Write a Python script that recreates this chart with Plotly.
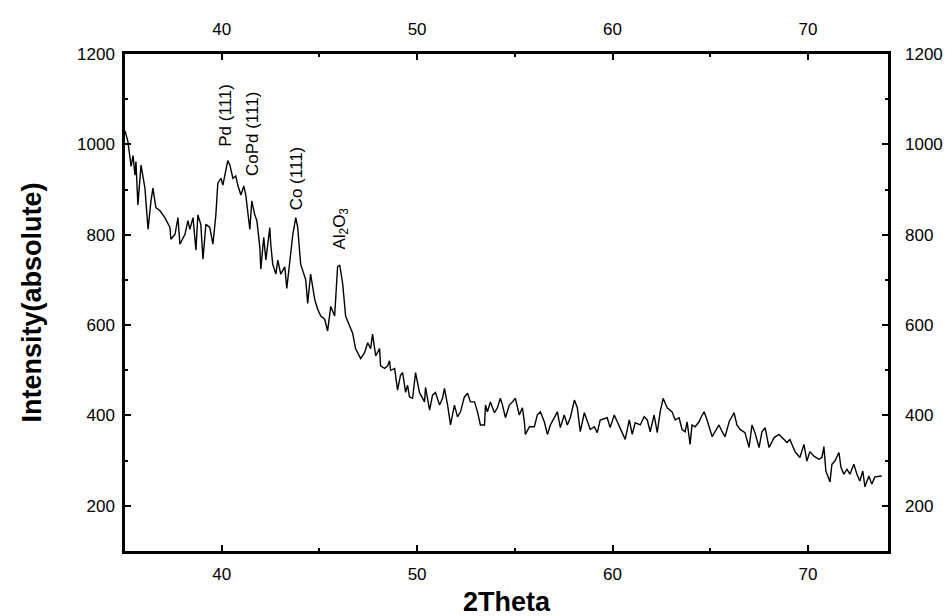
import plotly.graph_objects as go

two_theta = [35.05,35.20,35.36,35.46,35.56,35.61,35.71,35.82,35.87,36.07,36.23,36.38,36.48,36.63,36.84,37.09,37.35,37.40,37.61,37.76,37.86,38.12,38.27,38.37,38.53,38.68,38.78,38.93,39.04,39.19,39.39,39.55,39.70,39.80,39.96,40.06,40.21,40.31,40.42,40.57,40.72,40.82,40.98,41.13,41.23,41.44,41.54,41.69,41.80,41.95,42.00,42.15,42.26,42.46,42.51,42.61,42.77,42.87,43.02,43.23,43.33,43.48,43.64,43.79,43.89,44.04,44.20,44.30,44.40,44.55,44.76,44.91,45.07,45.27,45.42,45.58,45.78,45.93,46.04,46.19,46.34,46.55,46.70,46.85,47.11,47.31,47.47,47.62,47.72,47.88,48.08,48.13,48.34,48.49,48.59,48.64,48.85,49.00,49.15,49.26,49.41,49.51,49.61,49.77,49.92,50.12,50.38,50.43,50.64,50.79,50.94,51.15,51.30,51.40,51.56,51.71,51.91,52.07,52.22,52.42,52.58,52.73,52.94,53.09,53.24,53.45,53.50,53.60,53.75,53.96,54.11,54.26,54.37,54.52,54.72,54.88,55.03,55.23,55.39,55.49,55.54,55.75,56.00,56.15,56.31,56.51,56.67,56.82,57.02,57.18,57.33,57.53,57.69,57.84,58.05,58.20,58.35,58.56,58.86,59.07,59.22,59.37,59.73,59.88,60.09,60.24,60.40,60.65,60.86,61.01,61.16,61.42,61.62,61.78,61.93,62.13,62.29,62.44,62.59,62.80,63.05,63.21,63.41,63.56,63.72,63.82,63.97,64.07,64.23,64.43,64.59,64.69,64.84,65.10,65.25,65.45,65.61,65.76,65.97,66.22,66.37,66.53,66.78,66.99,67.14,67.29,67.50,67.65,67.81,68.01,68.27,68.52,68.78,68.93,69.08,69.34,69.59,69.80,69.95,70.10,70.31,70.56,70.72,70.82,70.92,71.13,71.23,71.38,71.59,71.69,71.84,72.00,72.15,72.35,72.51,72.66,72.81,72.92,73.12,73.27,73.43,73.63,73.78]

intensity = [1030,1006,951,975,932,962,866,925,954,903,812,875,903,860,853,838,816,790,801,838,779,801,831,812,838,766,844,823,746,823,816,779,844,914,925,910,940,964,954,925,930,910,888,908,888,812,875,844,831,772,724,794,744,816,779,735,713,744,713,729,681,735,801,838,816,735,713,700,648,713,657,635,620,613,587,641,620,729,733,692,620,598,582,548,526,539,561,548,580,532,548,510,504,510,521,500,504,456,489,495,451,467,441,438,495,451,430,462,412,445,451,423,438,460,423,379,423,397,408,441,449,430,430,408,379,379,423,408,430,406,417,438,423,395,423,430,438,401,417,386,358,375,375,401,408,386,358,379,395,408,373,401,379,395,434,417,364,406,369,375,362,390,395,373,401,386,373,347,390,358,384,379,397,390,364,401,362,408,438,417,408,390,395,369,364,386,336,379,375,386,401,408,390,353,364,379,364,353,386,406,379,369,362,329,379,362,329,364,373,329,351,358,347,340,347,320,307,336,299,320,310,303,307,331,277,253,292,299,318,286,270,281,270,292,270,255,277,242,266,248,264,266,266]

x_ticks = [40, 50, 60, 70]
y_ticks = [200, 400, 600, 800, 1000, 1200]

peak_labels = ["Pd (111)", "CoPd (111)", "Co (111)", "Al<sub>2</sub>O<sub>3</sub>"]
peak_x = [40.21, 41.54, 43.84, 46.09]
peak_y = [991, 925, 849, 762]

x_range = [35.05, 74.1]
y_range = [100, 1200]

FONT = "Liberation Sans, Arial, sans-serif"

fig = go.Figure()
fig.add_trace(go.Scatter(x=two_theta, y=intensity, mode="lines",
                         line=dict(color="black", width=1.4), showlegend=False,
                         hoverinfo="skip"))
fig.add_trace(go.Scatter(x=[x_range[0]], y=[y_range[0]], xaxis="x2", yaxis="y2",
                         mode="markers", marker=dict(opacity=0), showlegend=False,
                         hoverinfo="skip"))

tickfont = dict(family=FONT, size=17, color="black")
common_x = dict(range=x_range, tickvals=x_ticks, ticks="inside", ticklen=6, tickwidth=1.5,
                tickcolor="black", showgrid=False, zeroline=False, tickfont=tickfont,
                minor=dict(ticks="inside", ticklen=3, tickwidth=1.5, tickcolor="black",
                           tickvals=[45, 55, 65], showgrid=False))
common_y = dict(range=y_range, tickvals=y_ticks, ticks="inside", ticklen=6, tickwidth=1.5,
                tickcolor="black", showgrid=False, zeroline=False, tickfont=tickfont,
                minor=dict(ticks="inside", ticklen=3, tickwidth=1.5, tickcolor="black",
                           tickvals=[100, 300, 500, 700, 900, 1100], showgrid=False))

fig.update_layout(
    width=951, height=616,
    margin=dict(l=117, r=71, t=44, b=69),
    paper_bgcolor="white", plot_bgcolor="white",
    xaxis=dict(**common_x, showline=True, linecolor="black", linewidth=2.5, mirror=True,
               ticklabelstandoff=6,
               title=dict(text="<b>2Theta</b>", standoff=9,
                          font=dict(family=FONT, size=27, color="black"))),
    yaxis=dict(**common_y, showline=True, linecolor="black", linewidth=2.5, mirror=True,
               ticklabelstandoff=4,
               title=dict(text="<b>Intensity(absolute)</b>", standoff=28,
                          font=dict(family=FONT, size=27, color="black"))),
    xaxis2=dict(**common_x, overlaying="x", side="top", showline=False, ticklabelstandoff=15),
    yaxis2=dict(**common_y, overlaying="y", side="right", showline=False, ticklabelstandoff=16),
)

for label, px, py in zip(peak_labels, peak_x, peak_y):
    fig.add_annotation(x=px, y=py, text=label, textangle=-90, showarrow=False,
                       xanchor="center", yanchor="bottom",
                       font=dict(family=FONT, size=17, color="black"))

fig.write_html("out.html")
